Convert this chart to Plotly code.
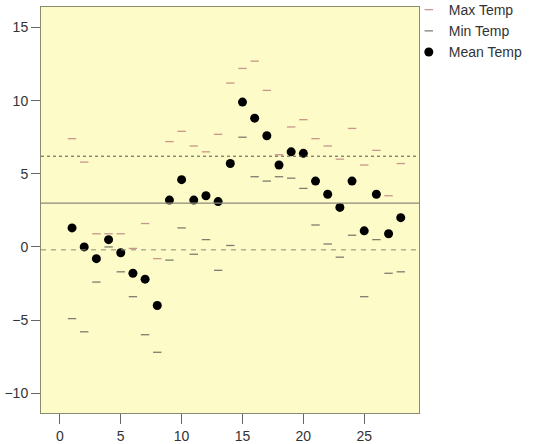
import plotly.graph_objects as go

days = list(range(1, 29))
max_temp = [7.4, 5.8, 0.9, 0.9, 0.9, -0.1, 1.6, -0.8, 7.2, 7.9, 6.9, 6.5, 7.7, 11.2,
            12.2, 12.7, 10.7, 6.3, 8.2, 8.7, 7.4, 6.9, 6.0, 8.1, 5.6, 6.6, 3.5, 5.7]
min_temp = [-4.9, -5.8, -2.4, 0.0, -1.7, -3.4, -6.0, -7.2, -0.9, 1.3, -0.5, 0.5, -1.6, 0.1,
            7.5, 4.8, 4.5, 4.8, 4.7, 4.0, 1.5, 0.2, -0.7, 0.8, -3.4, 0.5, -1.8, -1.7]
mean_temp = [1.3, 0.0, -0.8, 0.5, -0.4, -1.8, -2.2, -4.0, 3.2, 4.6, 3.2, 3.5, 3.1, 5.7,
             9.9, 8.8, 7.6, 5.6, 6.5, 6.4, 4.5, 3.6, 2.7, 4.5, 1.1, 3.6, 0.9, 2.0]
ref_mean = 3.0
ref_upper = 6.2
ref_lower = -0.2
x_ticks = [0, 5, 10, 15, 20, 25]
y_ticks = [-10, -5, 0, 5, 10, 15]

fig = go.Figure()
fig.add_trace(go.Scatter(x=days, y=max_temp, mode="markers", name="Max Temp",
                         marker=dict(symbol="line-ew", size=6,
                                     line=dict(color="#c8968a", width=1.3))))
fig.add_trace(go.Scatter(x=days, y=min_temp, mode="markers", name="Min Temp",
                         marker=dict(symbol="line-ew", size=6,
                                     line=dict(color="#7d7d70", width=1.3))))
fig.add_trace(go.Scatter(x=days, y=mean_temp, mode="markers", name="Mean Temp",
                         marker=dict(symbol="circle", size=9, color="black")))

fig.add_hline(y=ref_mean, line=dict(color="#8a8a78", width=1.2))
fig.add_hline(y=ref_upper, line=dict(color="#55554a", width=1, dash="3px,3px"))
fig.add_hline(y=ref_lower, line=dict(color="#8a8a78", width=1, dash="5px,5px"))

fig.update_layout(
    width=533, height=444,
    margin=dict(l=41, r=114, t=7, b=31, autoexpand=False),
    paper_bgcolor="white",
    plot_bgcolor="#fdfcc8",
    font=dict(family="Liberation Sans, Arial, sans-serif", size=14, color="#333333"),
    showlegend=True,
    legend=dict(x=0.973, xanchor="left", y=1.032, yanchor="top",
                bgcolor="rgba(0,0,0,0)", font=dict(size=14),
                itemwidth=30, tracegroupgap=0, borderwidth=0),
)
fig.update_xaxes(range=[-1.55, 29.5], tickvals=x_ticks, ticks="outside", ticklen=10,
                 tickcolor="#666666", showgrid=False, zeroline=False, automargin=False,
                 showline=True, linecolor="#8a8a70", linewidth=1, mirror=True)
fig.update_yaxes(range=[-11.35, 16.4], tickvals=y_ticks, ticks="outside", ticklen=9,
                 tickcolor="#666666", showgrid=False, zeroline=False, automargin=False,
                 showline=True, linecolor="#8a8a70", linewidth=1, mirror=True)

fig.write_html("out.html", config={"displayModeBar": False},
               post_script="document.body.style.margin='0';")
